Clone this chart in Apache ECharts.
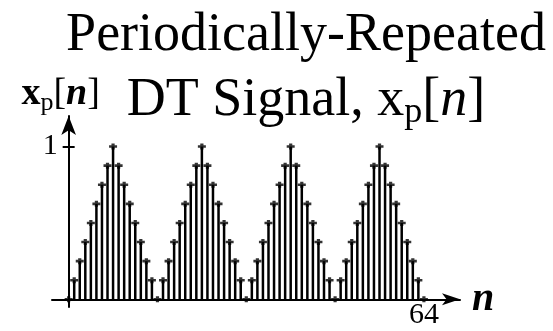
<!DOCTYPE html>
<html>
<head>
<meta charset="utf-8">
<script src="https://cdn.jsdelivr.net/npm/echarts@6/dist/echarts.min.js"></script>
<style>
html,body{margin:0;padding:0;background:#fff;}
#chart{width:553px;height:331px;}
</style>
</head>
<body>
<div id="chart"></div>
<script>
const titleLine1 = 'Periodically-Repeated';
const titleLine2 = 'DT Signal, ';
const nValues = [0,1,2,3,4,5,6,7,8,9,10,11,12,13,14,15,
  16,17,18,19,20,21,22,23,24,25,26,27,28,29,30,31,
  32,33,34,35,36,37,38,39,40,41,42,43,44,45,46,47,
  48,49,50,51,52,53,54,55,56,57,58,59,60,61,62,63,64];
const xpValues = [0,0.125,0.25,0.375,0.5,0.625,0.75,0.875,1,0.875,0.75,0.625,0.5,0.375,0.25,0.125,
  0,0.125,0.25,0.375,0.5,0.625,0.75,0.875,1,0.875,0.75,0.625,0.5,0.375,0.25,0.125,
  0,0.125,0.25,0.375,0.5,0.625,0.75,0.875,1,0.875,0.75,0.625,0.5,0.375,0.25,0.125,
  0,0.125,0.25,0.375,0.5,0.625,0.75,0.875,1,0.875,0.75,0.625,0.5,0.375,0.25,0.125,0];
const xTickLabels = [64];
const yTickLabels = [1];

const serif = '"Liberation Serif","DejaVu Serif",serif';
const pts = nValues.map((n, i) => [n, xpValues[i]]);

// grid geometry: axes cross at data (0, 0), inside a grid that extends a little past it
const G = {left: 52, right: 93, top: 116, bottom: 24, w: 553 - 52 - 93, h: 331 - 116 - 24};
const X_MIN = -3, X_MAX = 70.5, Y_MIN = -0.05, Y_MAX = 1.2;
const yAxisOffset = -(0 - X_MIN) / (X_MAX - X_MIN) * G.w;
const xAxisOffset = -(0 - Y_MIN) / (Y_MAX - Y_MIN) * G.h;

const chart = echarts.init(document.getElementById('chart'), null, {renderer: 'canvas'});
chart.setOption({
  backgroundColor: '#fff',
  animation: false,
  grid: {left: G.left, right: G.right, top: G.top, bottom: G.bottom, containLabel: false, outerBoundsMode: 'none'},
  xAxis: {
    type: 'value', min: X_MIN, max: X_MAX, position: 'bottom', offset: xAxisOffset,
    splitLine: {show: false},
    axisLine: {onZero: false, symbol: ['none', 'arrow'], symbolSize: [9, 18], lineStyle: {color: '#000', width: 2}},
    axisTick: {show: false},
    axisLabel: {customValues: xTickLabels, color: '#000', fontFamily: serif, fontSize: 30, lineHeight: 28, margin: 2},
    name: 'n', nameLocation: 'end', nameGap: 12,
    nameTextStyle: {color: '#000', fontFamily: serif, fontSize: 40, fontWeight: 'bold', fontStyle: 'italic', verticalAlign: 'middle'}
  },
  yAxis: [{
    type: 'value', min: Y_MIN, max: Y_MAX, position: 'left', offset: yAxisOffset,
    splitLine: {show: false},
    axisLine: {onZero: false, symbol: ['none', 'arrow'], symbolSize: [11, 19], lineStyle: {color: '#000', width: 2}},
    axisTick: {customValues: yTickLabels, length: 6, lineStyle: {color: '#000', width: 2}},
    axisLabel: {customValues: yTickLabels, color: '#000', fontFamily: serif, fontSize: 30, margin: 11},
    name: '{b|x}{s|p}{r|[}{i|n}{r|]}', nameLocation: 'end', nameGap: 0,
    nameTextStyle: {
      padding: [0, 16, 0, 0],
      rich: {
        b: {fontFamily: serif, fontSize: 38, fontWeight: 'bold', color: '#000', lineHeight: 44, verticalAlign: 'middle'},
        s: {fontFamily: serif, fontSize: 26, color: '#000', lineHeight: 24, verticalAlign: 'bottom'},
        r: {fontFamily: serif, fontSize: 38, color: '#000', lineHeight: 44, verticalAlign: 'middle'},
        i: {fontFamily: serif, fontSize: 38, fontWeight: 'bold', fontStyle: 'italic', color: '#000', lineHeight: 44, verticalAlign: 'middle'}
      }
    }
  }, {
    type: 'value', min: Y_MIN, max: Y_MAX, position: 'left', offset: yAxisOffset,
    splitLine: {show: false},
    axisLine: {show: false, onZero: false},
    axisTick: {show: true, customValues: yTickLabels, inside: true, length: 6, lineStyle: {color: '#000', width: 2}},
    axisLabel: {show: false}
  }],
  graphic: [{
    type: 'text', x: 306, y: 6,
    style: {text: titleLine1, align: 'center', verticalAlign: 'top', fill: '#000',
      font: '54px ' + serif, lineHeight: 60}
  }, {
    type: 'text', x: 306, y: 71,
    style: {
      text: '{r|' + titleLine2 + 'x}{s|p}{r|[}{i|n}{r|]}', align: 'center', verticalAlign: 'top',
      rich: {
        r: {fontFamily: serif, fontSize: 54, fill: '#000', lineHeight: 60, verticalAlign: 'middle'},
        s: {fontFamily: serif, fontSize: 36, fill: '#000', lineHeight: 36, verticalAlign: 'bottom'},
        i: {fontFamily: serif, fontSize: 54, fontStyle: 'italic', fill: '#000', lineHeight: 60, verticalAlign: 'middle'}
      }
    }
  }],
  series: [{
    type: 'bar', data: pts, barWidth: 2.5, itemStyle: {color: '#000'}, z: 2
  }, {
    type: 'scatter', data: pts, symbol: 'path://M0,2H10V5H0Z M3,0H7V7H3Z', symbolSize: [8, 6],
    itemStyle: {color: '#000'}, z: 3
  }]
});
</script>
</body>
</html>
